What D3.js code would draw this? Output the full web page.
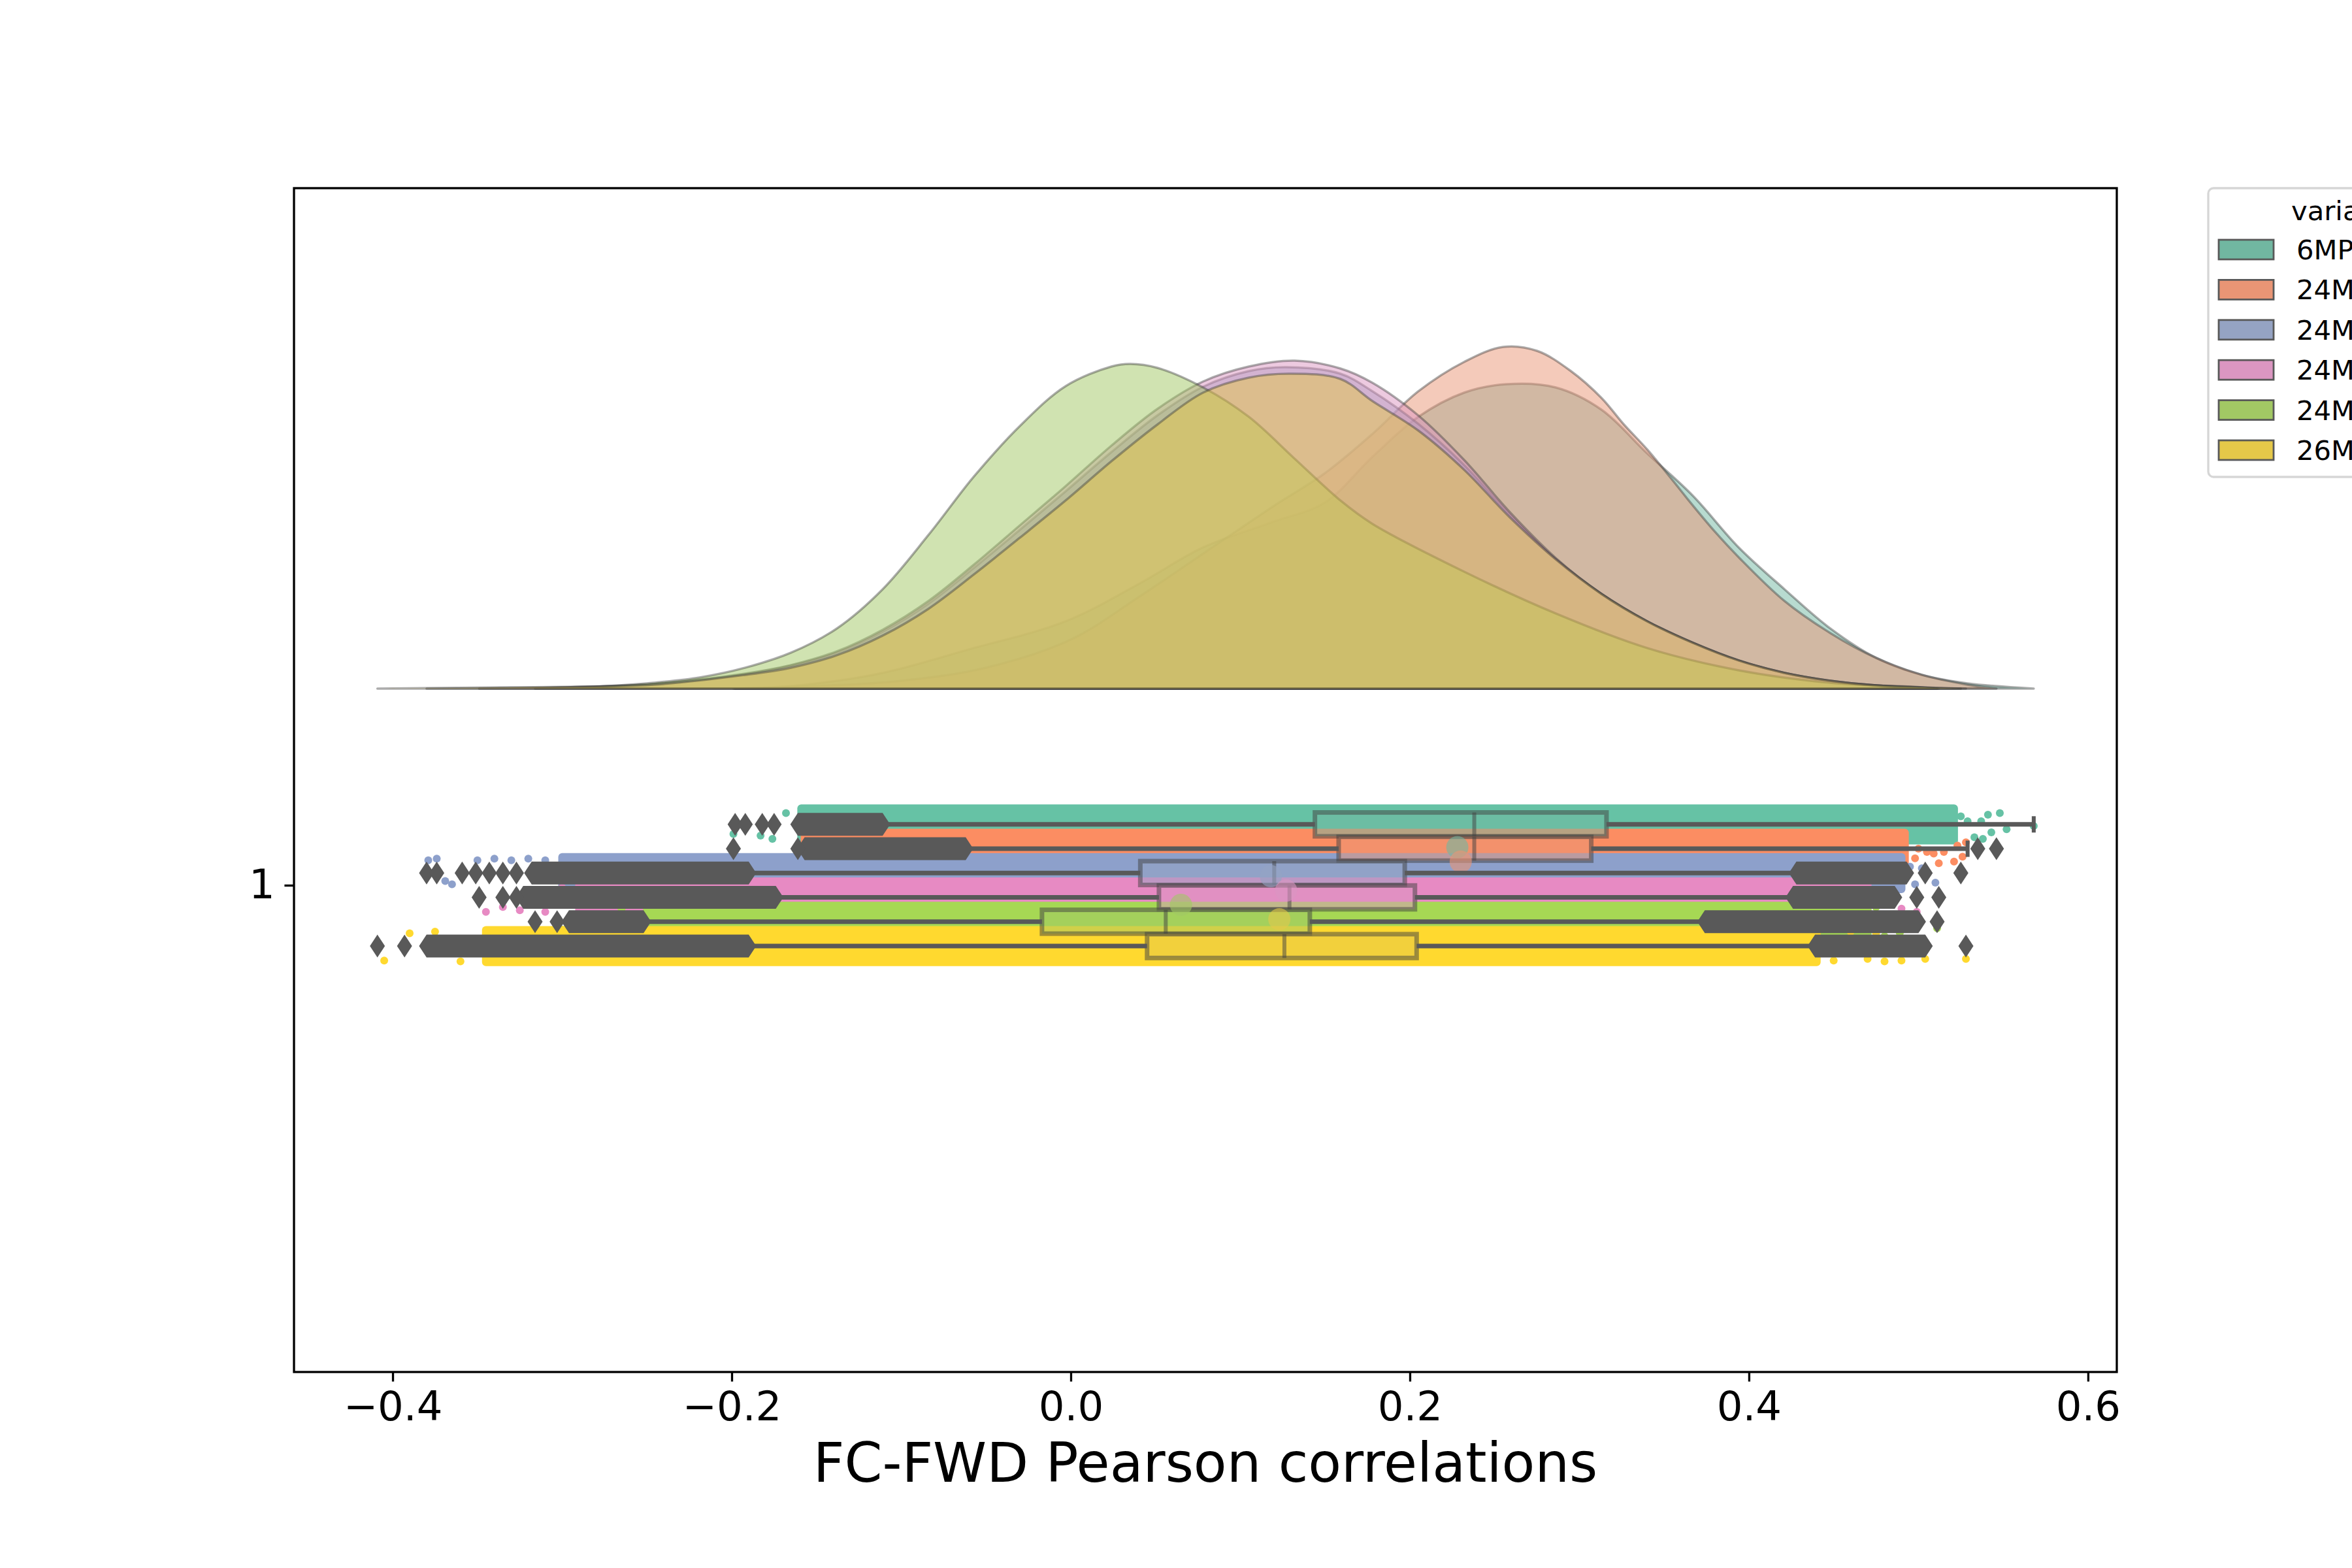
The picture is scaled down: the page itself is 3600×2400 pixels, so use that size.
<!DOCTYPE html>
<html>
<head>
<meta charset="utf-8">
<script src="https://cdn.jsdelivr.net/npm/d3@7"></script>
<style>
  body { margin: 0; background: #fff; overflow: hidden; }
  svg { display: block; font-family: "DejaVu Sans", sans-serif; }
</style>
</head>
<body>
<div id="chart"></div>
<script>
// hue groups, top to bottom
const groups = ["6MP", "24M", "24M", "24M", "24M", "26M"];
const stripColors = ["#66c2a5", "#fc8d62", "#8da0cb", "#e78ac3", "#a6d854", "#ffd92f"];
const boxColors = ["#71b7a1", "#e99575", "#95a3c3", "#db96c1", "#a2c864", "#e5c849"];
const xTicks = [-0.4, -0.2, 0.0, 0.2, 0.4, 0.6];

// box stats
const q1 = [0.144, 0.158, 0.041, 0.052, -0.017, 0.045];
const med = [0.238, 0.238, 0.120, 0.129, 0.056, 0.126];
const q3 = [0.316, 0.307, 0.197, 0.203, 0.141, 0.204];
const whiskLo = [-0.111, -0.062, -0.190, -0.174, -0.252, -0.190];
const whiskHi = [0.568, 0.529, 0.428, 0.426, 0.374, 0.439];
const means = [0.228, 0.230, 0.118, 0.127, 0.065, 0.123];

// dense part of the rain
const stripLo = [-0.159, -0.157, -0.30, -0.29, -0.25, -0.345];
const stripHi = [0.521, 0.492, 0.490, 0.470, 0.470, 0.440];

// sparse rain points: [value, jitter (-1..1)]
const stripSparse = [
  [[-0.199, 0.6], [-0.183, 0.7], [-0.176, 0.9], [-0.168, -0.7], [0.525, -0.5], [0.529, -0.2],
   [0.537, -0.2], [0.541, -0.6], [0.548, -0.7], [0.552, 0.3], [0.543, 0.5], [0.538, 0.9],
   [0.568, 0.1], [0.533, 0.8]],
  [[0.500, 0.0], [0.505, 0.2], [0.509, 0.3], [0.515, 0.2], [0.523, -0.2], [0.528, -0.4],
   [0.521, 0.8], [0.526, 0.5], [0.546, 0.1], [0.512, 0.9], [0.498, 0.6]],
  [[-0.379, -0.8], [-0.374, -0.9], [-0.369, 0.5], [-0.365, 0.7], [-0.35, -0.8], [-0.34, -0.9],
   [-0.33, -0.8], [-0.32, -0.9], [-0.31, -0.8], [0.495, -0.4], [0.502, -0.3],
   [0.51, 0.6], [0.525, -0.2], [0.498, 0.7]],
  [[-0.345, 0.9], [-0.335, 0.6], [-0.325, 0.8], [-0.31, 0.9], [-0.30, -0.6], [0.48, 0.2],
   [0.49, 0.7], [0.499, 0.9], [0.512, 0.2]],
  [[-0.316, 0.3], [-0.30, 0.5], [-0.28, 0.8], [-0.265, -0.8], [0.48, 0.9], [0.489, 0.7],
   [0.475, -0.9], [0.511, 0.4]],
  [[-0.405, 0.9], [-0.39, -0.8], [-0.375, -0.9], [-0.36, 0.95], [0.45, 0.9], [0.47, 0.8],
   [0.48, 0.95], [0.49, 0.9], [0.504, 0.8], [0.528, 0.8], [0.46, -0.9], [0.475, -0.8]]
];

// outliers: dense runs [from, to] and single diamonds
const flierRuns = [
  [[-0.161, -0.111]],
  [[-0.157, -0.062]],
  [[-0.318, -0.190], [0.428, 0.493]],
  [[-0.323, -0.174], [0.426, 0.486]],
  [[-0.296, -0.252], [0.374, 0.500]],
  [[-0.380, -0.190], [0.439, 0.504]]
];
const flierDots = [
  [-0.198, -0.192, -0.182, -0.175],
  [-0.199, -0.161, 0.535, 0.546],
  [-0.380, -0.374, -0.359, -0.351, -0.343, -0.335, -0.327, 0.504, 0.525],
  [-0.349, -0.335, -0.327, 0.499, 0.512],
  [-0.316, -0.303, 0.511],
  [-0.409, -0.393, 0.528]
];

// clouds (half violins): x values and density heights
const cloudX1 = [-0.198, -0.16, -0.111, -0.06, -0.003, 0.04, 0.078, 0.118, 0.15, 0.178, 0.205, 0.232,
  0.257, 0.286, 0.313, 0.340, 0.367, 0.394, 0.421, 0.448, 0.475, 0.502, 0.529, 0.568];
const cloudD1 = [0, 0.05, 0.24, 0.6, 1.03, 1.6, 2.16, 2.54, 2.85, 3.55, 4.16, 4.53,
  4.66, 4.61, 4.27, 3.60, 2.95, 2.16, 1.52, 0.92, 0.47, 0.21, 0.08, 0];
const cloudX2 = [-0.199, -0.15, -0.10, -0.05, 0.0, 0.04, 0.08, 0.12, 0.15, 0.178, 0.205, 0.232, 0.255, 0.275,
  0.295, 0.313, 0.326, 0.340, 0.354, 0.367, 0.380, 0.394, 0.421, 0.448, 0.475, 0.502, 0.529, 0.546];
const cloudD2 = [0, 0.04, 0.12, 0.32, 0.75, 1.4, 2.1, 2.8, 3.3, 3.9, 4.55, 5.0, 5.23, 5.17,
  4.86, 4.45, 4.05, 3.66, 3.22, 2.80, 2.40, 2.01, 1.34, 0.85, 0.47, 0.21, 0.06, 0];
const cloudX3 = [-0.380, -0.30, -0.246, -0.192, -0.165, -0.138, -0.111, -0.084, -0.057, -0.030,
  -0.003, 0.024, 0.051, 0.078, 0.105, 0.127, 0.159, 0.178, 0.205, 0.232,
  0.259, 0.286, 0.313, 0.340, 0.367, 0.394, 0.421, 0.448, 0.475, 0.525];
const cloudD3 = [0, 0.02, 0.07, 0.22, 0.35, 0.55, 0.87, 1.30, 1.85, 2.43,
  3.02, 3.62, 4.18, 4.62, 4.86, 4.92, 4.82, 4.55, 4.05, 3.42,
  2.66, 1.98, 1.45, 1.03, 0.70, 0.43, 0.24, 0.12, 0.05, 0];
const cloudX4 = [-0.349, -0.30, -0.246, -0.192, -0.165, -0.138, -0.111, -0.084, -0.057, -0.030,
  -0.003, 0.024, 0.051, 0.078, 0.105, 0.132, 0.159, 0.178, 0.205, 0.232,
  0.259, 0.286, 0.313, 0.340, 0.367, 0.394, 0.421, 0.448, 0.475, 0.512];
const cloudD4 = [0, 0.02, 0.07, 0.23, 0.36, 0.57, 0.90, 1.34, 1.90, 2.50,
  3.10, 3.72, 4.28, 4.70, 4.93, 5.02, 4.90, 4.68, 4.18, 3.50,
  2.70, 2.00, 1.45, 1.03, 0.70, 0.43, 0.24, 0.12, 0.05, 0];
const cloudX5 = [-0.316, -0.28, -0.246, -0.219, -0.192, -0.165, -0.138, -0.111, -0.084, -0.057,
  -0.030, -0.003, 0.024, 0.035, 0.051, 0.078, 0.105, 0.132, 0.159, 0.178,
  0.232, 0.286, 0.340, 0.394, 0.448, 0.502, 0.511];
const cloudD5 = [0, 0.03, 0.09, 0.17, 0.32, 0.55, 0.92, 1.52, 2.35, 3.25,
  4.02, 4.63, 4.93, 4.97, 4.91, 4.61, 4.16, 3.52, 2.88, 2.52,
  1.79, 1.15, 0.62, 0.28, 0.09, 0.02, 0];
const cloudX6 = [-0.409, -0.33, -0.246, -0.192, -0.165, -0.138, -0.111, -0.084, -0.057, -0.030,
  -0.003, 0.024, 0.051, 0.078, 0.105, 0.129, 0.159, 0.178, 0.205, 0.232,
  0.259, 0.286, 0.313, 0.340, 0.367, 0.394, 0.421, 0.448, 0.475, 0.528];
const cloudD6 = [0, 0.02, 0.06, 0.21, 0.32, 0.51, 0.81, 1.22, 1.75, 2.31,
  2.88, 3.48, 4.04, 4.53, 4.76, 4.82, 4.74, 4.40, 3.95, 3.35,
  2.62, 1.98, 1.45, 1.03, 0.70, 0.43, 0.24, 0.12, 0.05, 0];

const clouds = [
  d3.zip(cloudX1, cloudD1), d3.zip(cloudX2, cloudD2), d3.zip(cloudX3, cloudD3),
  d3.zip(cloudX4, cloudD4), d3.zip(cloudX5, cloudD5), d3.zip(cloudX6, cloudD6)
];

const createChart = () => {
  const width = 3600;
  const height = 2400;
  const left = 450, right = 3240, top = 288, bottom = 2100;
  const grey = "#595959";

  const svg = d3.select("#chart").append("svg")
    .attr("width", width)
    .attr("height", height);

  const x = d3.scaleLinear().domain([-0.4582, 0.617]).range([left, right]);
  // category "1" sits at 0; axis is inverted like matplotlib's horizontal plots
  const y = d3.scaleLinear().domain([-0.716, 0.5]).range([top, bottom]);

  const dodge = (i) => (i - 2.5) * 0.025;
  const boxH = y(0.0245) - y(0);
  const jitter = y(0.0165) - y(0);
  const dotR = 6;
  const cloudBase = -0.202;
  const densUnit = 0.0671;

  // clouds
  const area = d3.area()
    .x((d) => x(d[0]))
    .y0(y(cloudBase))
    .y1((d) => Math.min(y(cloudBase), y(cloudBase - d[1] * densUnit)))
    .curve(d3.curveCatmullRom.alpha(0.5));

  svg.append("g").attr("class", "clouds")
    .selectAll("path")
    .data(clouds)
    .enter()
    .append("path")
    .attr("d", area)
    .attr("fill", (d, i) => boxColors[i])
    .attr("fill-opacity", 0.5)
    .attr("stroke", "#3a3a3a")
    .attr("stroke-opacity", 0.42)
    .attr("stroke-width", 3.5)
    .attr("stroke-linejoin", "round");

  // rain
  const rain = svg.append("g").attr("class", "rain");
  groups.forEach((g, i) => {
    const cy = y(dodge(i));
    rain.append("rect")
      .attr("x", x(stripLo[i]) - dotR)
      .attr("y", cy - jitter - dotR)
      .attr("width", x(stripHi[i]) - x(stripLo[i]) + dotR * 2)
      .attr("height", (jitter + dotR) * 2)
      .attr("rx", dotR)
      .attr("fill", stripColors[i]);
    rain.selectAll("circle.s" + i)
      .data(stripSparse[i])
      .enter()
      .append("circle")
      .attr("class", "s" + i)
      .attr("cx", (d) => x(d[0]))
      .attr("cy", (d) => cy + d[1] * jitter)
      .attr("r", dotR)
      .attr("fill", stripColors[i]);
  });

  // boxes
  const boxes = svg.append("g").attr("class", "boxes");
  groups.forEach((g, i) => {
    const cy = y(dodge(i));
    boxes.append("rect")
      .attr("x", x(q1[i]))
      .attr("y", cy - boxH / 2)
      .attr("width", x(q3[i]) - x(q1[i]))
      .attr("height", boxH)
      .attr("fill", boxColors[i])
      .attr("fill-opacity", 0.5)
      .attr("stroke", "#3f3f3f")
      .attr("stroke-opacity", 0.5)
      .attr("stroke-width", 7);
    boxes.append("line")
      .attr("x1", x(med[i])).attr("x2", x(med[i]))
      .attr("y1", cy - boxH / 2).attr("y2", cy + boxH / 2)
      .attr("stroke", "#3f3f3f")
      .attr("stroke-opacity", 0.5)
      .attr("stroke-width", 6);
  });

  // means
  svg.append("g").attr("class", "means")
    .selectAll("circle")
    .data(means)
    .enter()
    .append("circle")
    .attr("cx", (d) => x(d))
    .attr("cy", (d, i) => y((i - 2.5) * 0.0148 - 0.002))
    .attr("r", 17)
    .attr("fill", (d, i) => boxColors[i])
    .attr("fill-opacity", 0.6);

  // whiskers, caps and outliers
  const wk = svg.append("g").attr("class", "whiskers");
  const hw = 11.5, hh = 17.5;
  const runPath = (a, b, cy) =>
    "M" + (x(a) - hw) + "," + cy +
    "L" + x(a) + "," + (cy - hh) +
    "L" + x(b) + "," + (cy - hh) +
    "L" + (x(b) + hw) + "," + cy +
    "L" + x(b) + "," + (cy + hh) +
    "L" + x(a) + "," + (cy + hh) + "Z";

  groups.forEach((g, i) => {
    const cy = y(dodge(i));
    [[whiskLo[i], q1[i]], [q3[i], whiskHi[i]]].forEach((seg) => {
      wk.append("line")
        .attr("x1", x(seg[0])).attr("x2", x(seg[1]))
        .attr("y1", cy).attr("y2", cy)
        .attr("stroke", grey)
        .attr("stroke-width", 7);
    });
    [whiskLo[i], whiskHi[i]].forEach((v) => {
      wk.append("line")
        .attr("x1", x(v)).attr("x2", x(v))
        .attr("y1", cy - 12.5).attr("y2", cy + 12.5)
        .attr("stroke", grey)
        .attr("stroke-width", 6);
    });
    flierRuns[i].forEach((r) => {
      wk.append("path").attr("d", runPath(r[0], r[1], cy)).attr("fill", grey);
    });
    flierDots[i].forEach((v) => {
      wk.append("path").attr("d", runPath(v, v, cy)).attr("fill", grey);
    });
  });

  // frame
  svg.append("rect")
    .attr("x", left).attr("y", top)
    .attr("width", right - left).attr("height", bottom - top)
    .attr("fill", "none")
    .attr("stroke", "#000")
    .attr("stroke-width", 3.3);

  // axes
  const xAxis = svg.append("g")
    .attr("transform", "translate(0," + bottom + ")")
    .call(d3.axisBottom(x).tickValues(xTicks).tickFormat(d3.format(".1f"))
      .tickSize(14.6).tickPadding(14.6));
  const yAxis = svg.append("g")
    .attr("transform", "translate(" + left + ",0)")
    .call(d3.axisLeft(y).tickValues([0]).tickFormat(() => "1")
      .tickSize(14.6).tickPadding(14.6));

  [xAxis, yAxis].forEach((a) => {
    a.select(".domain").remove();
    a.selectAll(".tick line").attr("stroke", "#000").attr("stroke-width", 3.3);
    a.selectAll(".tick text")
      .attr("fill", "#000")
      .style("font-family", "DejaVu Sans")
      .style("font-size", "62.5px");
  });

  svg.append("text")
    .attr("x", (left + right) / 2)
    .attr("y", 2268)
    .attr("text-anchor", "middle")
    .style("font-size", "83px")
    .text("FC-FWD Pearson correlations");

  // legend, cut off by the figure edge as in the original
  const lg = svg.append("g").attr("class", "legend");
  lg.append("rect")
    .attr("x", 3380).attr("y", 288)
    .attr("width", 400).attr("height", 442)
    .attr("rx", 8)
    .attr("fill", "#fff")
    .attr("fill-opacity", 0.8)
    .attr("stroke", "#d6d6d6")
    .attr("stroke-width", 3.3);
  lg.append("text")
    .attr("x", 3507).attr("y", 337)
    .style("font-size", "41.7px")
    .text("variable");
  const entry = lg.selectAll("g.entry")
    .data(groups)
    .enter()
    .append("g")
    .attr("class", "entry")
    .attr("transform", (d, i) => "translate(0," + (382 + i * 61.4) + ")");
  entry.append("rect")
    .attr("x", 3396).attr("y", -15)
    .attr("width", 84).attr("height", 30)
    .attr("fill", (d, i) => boxColors[i])
    .attr("stroke", grey)
    .attr("stroke-width", 2.8);
  entry.append("text")
    .attr("x", 3515).attr("y", 15)
    .style("font-size", "41.7px")
    .text((d) => d);
};

createChart();
</script>
</body>
</html>
